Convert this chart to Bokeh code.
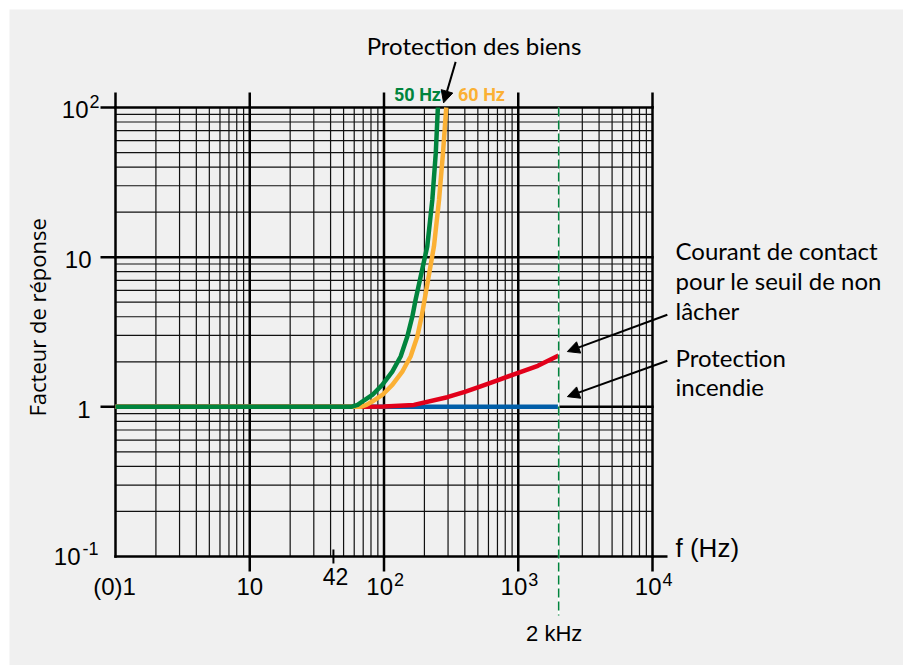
import math
from bokeh.plotting import figure
from bokeh.models import Range1d, Label, Arrow, NormalHead
from bokeh.embed import file_html
from bokeh.resources import INLINE

# ---------------- data ----------------
x_decades = [1, 10, 100, 1000, 10000]
y_decades = [0.1, 1, 10, 100]
mantissas = [2, 3, 4, 5, 6, 7, 8, 9]

freq_blue = [1, 2000]
resp_blue = [1, 1]

freq_red = [1, 70, 100, 167, 296, 400, 525, 700, 929, 1400, 2000]
resp_red = [1, 1, 1.005, 1.03, 1.16, 1.26, 1.37, 1.50, 1.65, 1.88, 2.2]

freq_60 = [1, 66.9, 74, 81.8, 97.1, 115.3, 136.9, 157.8, 177.1, 190.6, 235.5, 257, 275, 291]
resp_60 = [1, 1, 1.03, 1.085, 1.20, 1.40, 1.72, 2.17, 2.95, 4.01, 11.8, 24.1, 49.5, 100]

freq_50 = [1, 57, 63.6, 68.9, 81.8, 97.1, 115.3, 133, 149.2, 162.6, 171.9, 210, 229, 243, 252]
resp_50 = [1, 1, 1.03, 1.085, 1.20, 1.40, 1.72, 2.17, 2.95, 4.01, 5.19, 11.8, 24.1, 49.5, 100]

x_axis_ticks = [10, 100, 1000, 10000]
y_axis_ticks = [1, 10, 100]
f_marker = 2000
f_special_tick = 42

BG = "#f0f0f0"
GREEN = "#00843d"
ORANGE = "#fbb034"
RED = "#e2001a"
BLUE = "#005ea8"

# ---------------- layout (pixels) ----------------
PAD_L, PLOT_W, PAD_R = 106, 537, 251
PAD_T, PLOT_H, PAD_B = 98, 449, 109
FIG_W = PAD_L + PLOT_W + PAD_R
FIG_H = PAD_T + PLOT_H + PAD_B
x_dec_span = math.log10(x_decades[-1] / x_decades[0])
y_dec_span = math.log10(y_decades[-1] / y_decades[0])
x_lo = math.log10(x_decades[0]) - PAD_L * x_dec_span / PLOT_W
x_hi = math.log10(x_decades[-1]) + PAD_R * x_dec_span / PLOT_W
y_lo = math.log10(y_decades[0]) - PAD_B * y_dec_span / PLOT_H
y_hi = math.log10(y_decades[-1]) + PAD_T * y_dec_span / PLOT_H

p = figure(width=FIG_W, height=FIG_H, frame_width=FIG_W, frame_height=FIG_H,
           x_axis_type="log", y_axis_type="log",
           x_range=Range1d(10 ** x_lo, 10 ** x_hi), y_range=Range1d(10 ** y_lo, 10 ** y_hi),
           x_axis_location=None, y_axis_location=None,
           output_backend="svg", toolbar_location=None, min_border=0)
p.margin = (9, 0, 0, 9)
p.background_fill_color = BG
p.border_fill_color = BG
p.outline_line_color = None
p.grid.visible = False

X0, X1 = x_decades[0], x_decades[-1]
Y0, Y1 = y_decades[0], y_decades[-1]
x_minor = [d * m for d in x_decades[:-1] for m in mantissas]
y_minor = [d * m for d in y_decades[:-1] for m in mantissas]

# minor grid
p.segment(x0=x_minor, y0=[Y0] * len(x_minor), x1=x_minor, y1=[Y1] * len(x_minor),
          line_color="#111111", line_width=1.2)
p.segment(x0=[X0] * len(y_minor), y0=y_minor, x1=[X1] * len(y_minor), y1=y_minor,
          line_color="#111111", line_width=1.2)
# major grid
p.segment(x0=x_decades, y0=[Y0] * len(x_decades), x1=x_decades, y1=[Y1] * len(x_decades),
          line_color="black", line_width=2.5, line_cap="square")
p.segment(x0=[X0] * len(y_decades), y0=y_decades, x1=[X1] * len(y_decades), y1=y_decades,
          line_color="black", line_width=2.5, line_cap="square")

# ticks (screen-length rays)
p.ray(x=x_decades, y=[Y1] * len(x_decades), length=15, length_units="screen",
      angle=math.pi / 2, line_color="black", line_width=2.5)
p.ray(x=[X0] * len(y_axis_ticks), y=y_axis_ticks, length=15, length_units="screen",
      angle=math.pi, line_color="black", line_width=2.5)
p.ray(x=x_axis_ticks, y=[Y0] * len(x_axis_ticks), length=15, length_units="screen",
      angle=-math.pi / 2, line_color="black", line_width=2.5)
p.ray(x=[X1], y=[Y0], length=15, length_units="screen", angle=0,
      line_color="black", line_width=2.5)
p.ray(x=[f_special_tick, f_special_tick], y=[Y0, Y0], length=7, length_units="screen",
      angle=[math.pi / 2, -math.pi / 2], line_color="black", line_width=2)

# curves
p.line(freq_blue, resp_blue, line_color=BLUE, line_width=4.5)
p.line(freq_red, resp_red, line_color=RED, line_width=4.5, line_join="round")
p.line(freq_60, resp_60, line_color=ORANGE, line_width=4.5, line_join="round")
p.line(freq_50, resp_50, line_color=GREEN, line_width=4.5, line_join="round")

# 2 kHz dashed marker (white under green dashes), extending below the plot
p.ray(x=[f_marker], y=[Y1], length=PLOT_H + 59, length_units="screen", angle=-math.pi / 2,
      line_color="white", line_width=1.5)
p.ray(x=[f_marker], y=[Y1], length=PLOT_H + 59, length_units="screen", angle=-math.pi / 2,
      line_color=GREEN, line_width=1.5, line_dash="9 4")

def lab(text, x, y, xo, yo, size, align="left", font="Liberation Sans",
        color="black", style="normal", angle=0.0, baseline="alphabetic"):
    if baseline == "alphabetic":
        yo = yo + 0.4 * size
    p.add_layout(Label(x=x, y=y, x_offset=xo, y_offset=yo, text=text,
                       text_font=font, text_font_size=f"{size}px",
                       text_align=align, text_baseline=baseline,
                       text_color=color, text_font_style=style, angle=angle))

# y tick labels
lab("1", X0, 1, -25, -12, 24, align="right")
lab("10", X0, 10, -24, -12, 24, align="right")
lab("10", X0, 100, -27, -12, 24, align="right")
lab("2", X0, 100, -26, -1, 18)
lab("10", X0, Y0, -35, -10, 24, align="right")
lab("-1", X0, Y0, -33, 1, 18)

# x tick labels
lab("(0)1", X0, Y0, -1, -40, 24, align="center")
lab("10", 10, Y0, 0, -40, 24, align="center")
lab("42", f_special_tick, Y0, 2, -29, 23, align="center")
for dec, sup in ((100, "2"), (1000, "3"), (10000, "4")):
    lab("10", dec, Y0, 9, -40, 24, align="right")
    lab(sup, dec, Y0, 10, -30, 18)
lab("2 kHz", f_marker, Y0, -4.5, -86, 22, align="center")
lab("f (Hz)", X1, Y0, 23, -2, 26)

# axis title
lab("Facteur de réponse", X0, 1, -79, 89.5, 22, align="center", font="Open Sans",
    angle=math.pi / 2, baseline="middle")

# annotations
lab("Protection des biens", 100, Y1, 90, 52, 24, align="center", font="Lato")
lab("50 Hz", 100, Y1, 10, 5.5, 18, font="Roboto", color=GREEN, style="bold")
lab("60 Hz", 100, Y1, 74, 5.5, 18, font="Roboto", color=ORANGE, style="bold")
for txt, yo in (("Courant de contact", 147), ("pour le seuil de non", 117), ("lâcher", 86.3),
                ("Protection", 39.3), ("incendie", 10.3)):
    lab(txt, X1, 1, 23, yo, 24, font="Lato")

def arrow(xs, ys, xe, ye):
    p.add_layout(Arrow(end=NormalHead(size=12, fill_color="black", line_color="black", line_width=1),
                       x_start=xs, y_start=ys, x_end=xe, y_end=ye,
                       line_color="black", line_width=2))

arrow(341.7, 201.7, 278, 107.4)
arrow(12900, 4.12, 2322, 2.34)
arrow(12900, 2.03, 2322, 1.17)

open("out.html", "w").write(file_html(p, INLINE))
